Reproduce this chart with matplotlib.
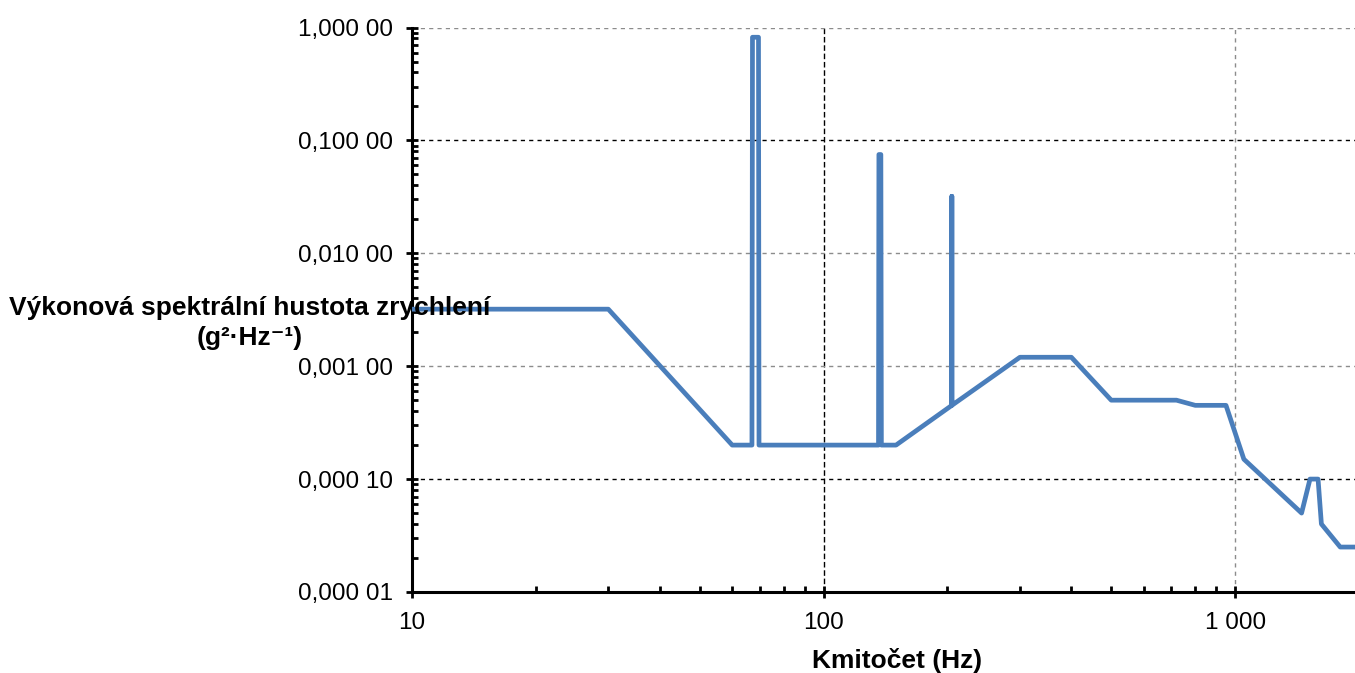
import matplotlib
matplotlib.use('Agg')
import matplotlib.pyplot as plt
from matplotlib.ticker import FuncFormatter, LogLocator, NullFormatter

# vibration profile: frequency (Hz) and acceleration PSD (g^2/Hz)
freq = [10, 30, 60, 67, 67.2, 69.5, 69.7, 136, 136.3, 137.8, 138.2, 150,
        205, 205, 205, 300, 400, 500, 720, 800, 950, 1050, 1450, 1520,
        1590, 1620, 1800, 2000]
psd = [0.0032, 0.0032, 0.0002, 0.0002, 0.82, 0.82, 0.0002, 0.0002, 0.075,
       0.075, 0.0002, 0.0002, 0.00045, 0.032, 0.00045, 0.0012, 0.0012,
       0.0005, 0.0005, 0.00045, 0.00045, 0.00015, 0.00005, 0.0001, 0.0001,
       0.00004, 0.000025, 0.000025]

y_ticks = [1e-5, 1e-4, 1e-3, 1e-2, 1e-1, 1]
x_ticks = [10, 100, 1000]

plt.rcParams['font.family'] = ['Liberation Sans', 'DejaVu Sans']


def y_fmt(v, pos):
    s = f'{v:.5f}'.replace('.', ',')
    return s[:-2] + ' ' + s[-2:]


def x_fmt(v, pos):
    return f'{int(round(v)):,}'.replace(',', ' ')


fig = plt.figure(figsize=(13.55, 6.73), dpi=100)
ax = fig.add_axes([0.304, 0.1204, 0.699, 0.8387])

ax.plot(freq, psd, color='#4a7ebb', lw=3.4, zorder=3)

ax.set_xscale('log')
ax.set_yscale('log')
ax.set_xlim(10, 2000)
ax.set_ylim(1e-5, 1)

ax.set_xticks(x_ticks)
ax.set_yticks(y_ticks)
ax.xaxis.set_major_formatter(FuncFormatter(x_fmt))
ax.yaxis.set_major_formatter(FuncFormatter(y_fmt))
ax.xaxis.set_minor_locator(LogLocator(base=10, subs=range(2, 10), numticks=20))
ax.yaxis.set_minor_locator(LogLocator(base=10, subs=range(2, 10), numticks=20))
ax.xaxis.set_minor_formatter(NullFormatter())
ax.yaxis.set_minor_formatter(NullFormatter())

ax.tick_params(which='major', direction='inout', length=9, width=2, labelsize=17.5)
ax.tick_params(axis='x', which='major', pad=10)
ax.tick_params(axis='y', which='major', pad=9)
ax.tick_params(which='minor', direction='in', length=4, width=2)

for side in ['top', 'right']:
    ax.spines[side].set_visible(False)
for side in ['left', 'bottom']:
    ax.spines[side].set_linewidth(2.2)

ax.grid(True, which='major', linestyle=(0, (3, 3)), color='#8c8c8c', lw=1)
ygl = ax.yaxis.get_gridlines()
for i in [1, 4]:
    ygl[i].set_color('black')
xgl = ax.xaxis.get_gridlines()
xgl[0].set_visible(False)
xgl[1].set_color('black')
xgl[1].set_linestyle((0, (4, 2)))

fig.text(0.184, 0.52, 'Výkonová spektrální hustota zrychlení\n(g²·Hz⁻¹)',
         ha='center', va='center', fontsize=19, fontweight='bold', linespacing=1.3)
fig.text(0.662, 0.0, 'Kmitočet (Hz)', ha='center', va='bottom',
         fontsize=19, fontweight='bold')

fig.savefig('out.png', dpi=100)
